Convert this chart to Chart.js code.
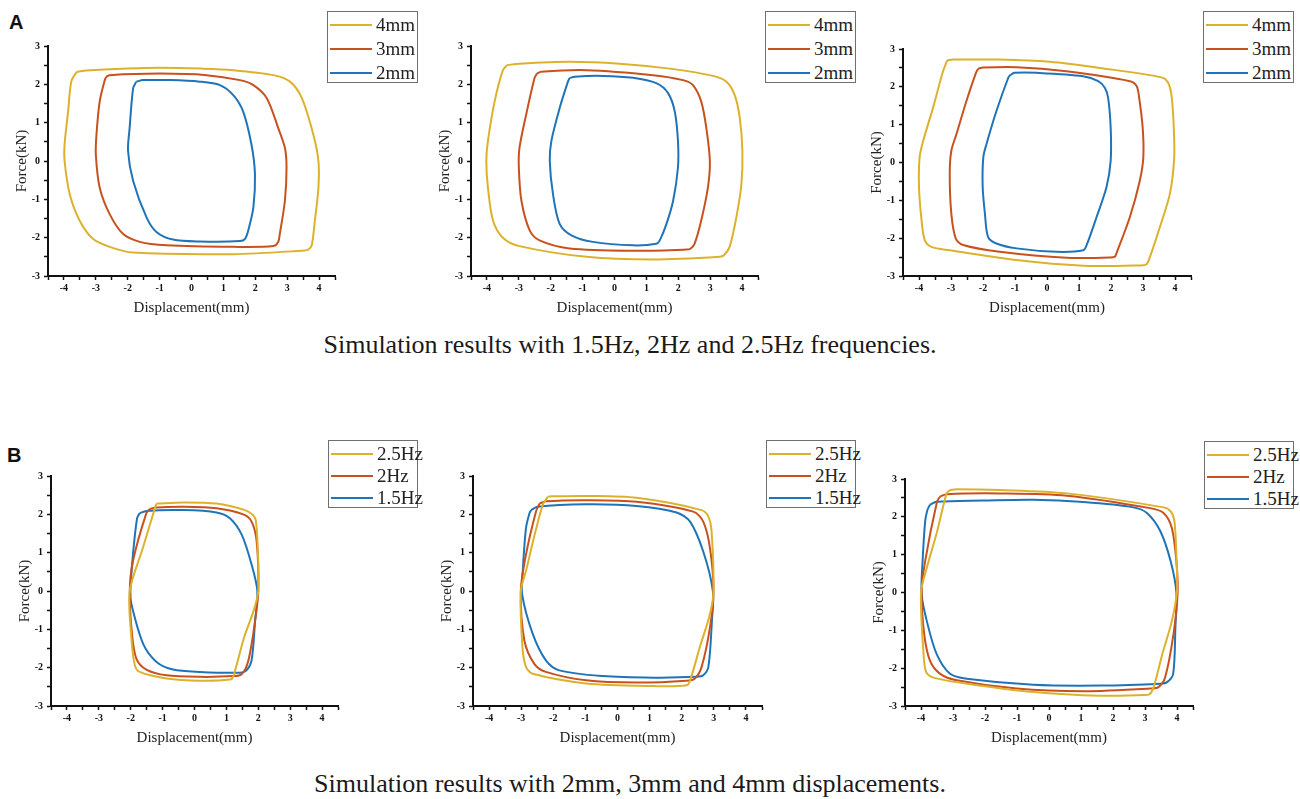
<!DOCTYPE html>
<html>
<head>
<meta charset="utf-8">
<script src="https://cdn.jsdelivr.net/npm/chart.js@4.4.1/dist/chart.umd.min.js"></script>
<style>
  html, body { margin: 0; padding: 0; background: #fff; }
  #fig { position: relative; width: 1300px; height: 799px; overflow: hidden; }
  #fig canvas { position: absolute; }
  .tag { position: absolute; font: bold 20px "Liberation Sans", Arial, sans-serif; line-height: 20px; color: #111; }
  .caption { position: absolute; left: 0; width: 1260px; text-align: center;
             font: 26px "Liberation Serif", "Times New Roman", serif; line-height: 26px; color: #1a1a1a; }
  .legend { position: absolute; border: 1.5px solid #6f6f6f; box-sizing: border-box; background: #fff; }
  .legend .row { position: absolute; left: 2px; display: flex; align-items: center; height: 20px;
                 font: 19px "Liberation Serif", "Times New Roman", serif; color: #222; }
  .legend .swatch { width: 42px; height: 2.5px; margin-right: 4px; }
</style>
</head>
<body>
<div id="fig"></div>
<script>
  // ---- data ----
  const mmLabels = ["4mm", "3mm", "2mm"];
  const hzLabels = ["2.5Hz", "2Hz", "1.5Hz"];
  const seriesColors = ["#dcb22c", "#c8521e", "#1f74b9"];
  const xRange = [-4.5, 4.5];
  const yRange = [-3, 3];

  // A: 1.5Hz / 2Hz / 2.5Hz, each with 4mm, 3mm, 2mm loops
  const a1_4mm = [[-3.56,2.33],[-3.3,2.36],[-2,2.41],[-1,2.43],[0.3,2.41],[1.31,2.37],[2.57,2.24],[3.09,2.07],[3.46,1.64],[3.82,0.69],[3.98,0],[3.98,-0.69],[3.87,-1.55],[3.77,-2.2],[3.66,-2.31],[3.46,-2.34],[1.31,-2.43],[-1.83,-2.39],[-2.57,-2.24],[-3.09,-2.03],[-3.51,-1.55],[-3.82,-0.86],[-3.98,0],[-3.98,0.43],[-3.87,1.29],[-3.77,2.07],[-3.61,2.31]];
  const a1_3mm = [[-2.67,2.2],[-2.57,2.24],[-1,2.28],[0.47,2.24],[1.52,2.11],[1.94,1.98],[2.36,1.64],[2.72,0.86],[2.93,0.34],[2.98,-0.17],[2.93,-1.03],[2.77,-1.9],[2.72,-2.11],[2.57,-2.22],[1.31,-2.24],[-0.79,-2.2],[-1.62,-2.11],[-2.15,-1.9],[-2.57,-1.38],[-2.88,-0.69],[-3.0,0.17],[-2.98,0.69],[-2.88,1.55],[-2.72,2.11]];
  const a1_2mm = [[-1.73,2.07],[-1.52,2.11],[-0.68,2.11],[0.26,2.07],[0.89,1.98],[1.31,1.72],[1.62,1.29],[1.88,0.43],[1.99,-0.34],[1.94,-1.21],[1.78,-1.81],[1.68,-2.03],[1.52,-2.09],[0.26,-2.1],[-0.58,-2.05],[-1.1,-1.85],[-1.41,-1.47],[-1.83,-0.52],[-1.99,0.26],[-1.94,0.86],[-1.83,1.9]];

  const a2_4mm = [[-3.37,2.5],[-2.98,2.54],[-1.41,2.59],[0.16,2.54],[1.73,2.41],[3.09,2.22],[3.51,2.07],[3.77,1.72],[3.93,1.12],[4.01,0.26],[3.98,-0.6],[3.82,-1.47],[3.61,-2.24],[3.43,-2.46],[3.3,-2.5],[1.21,-2.57],[-0.88,-2.5],[-2.98,-2.22],[-3.5,-2.0],[-3.81,-1.55],[-3.97,-0.69],[-4.02,0],[-3.97,0.52],[-3.76,1.55],[-3.5,2.37]];
  const a2_3mm = [[-2.43,2.28],[-2.3,2.33],[-0.88,2.37],[1.21,2.24],[2.15,2.11],[2.46,1.98],[2.72,1.55],[2.88,0.86],[2.99,0],[2.93,-0.69],[2.72,-1.55],[2.51,-2.16],[2.38,-2.29],[2.26,-2.31],[0.69,-2.34],[-1.41,-2.28],[-2.35,-2.07],[-2.66,-1.81],[-2.92,-1.03],[-3.0,-0.17],[-2.98,0.34],[-2.77,1.21],[-2.51,2.16]];
  const a2_2mm = [[-1.41,2.16],[-1.25,2.2],[-0.36,2.22],[0.58,2.17],[1.31,2.03],[1.68,1.77],[1.89,1.29],[1.99,0.52],[1.99,-0.17],[1.84,-1.03],[1.63,-1.64],[1.42,-2.07],[1.31,-2.16],[0.58,-2.2],[-0.68,-2.11],[-1.35,-1.94],[-1.72,-1.64],[-1.93,-0.86],[-2.03,0],[-1.98,0.52],[-1.72,1.38],[-1.46,2.07]];

  const a3_4mm = [[-3.12,2.7],[-2.92,2.72],[-1.48,2.72],[0.09,2.66],[1.65,2.5],[3.58,2.25],[3.79,2.1],[3.9,1.71],[3.97,0.75],[3.97,0.05],[3.84,-0.83],[3.53,-1.7],[3.22,-2.49],[3.11,-2.69],[2.9,-2.72],[1.13,-2.73],[-0.96,-2.58],[-3.04,-2.32],[-3.61,-2.23],[-3.82,-2.05],[-3.92,-1.53],[-4.0,-0.65],[-3.98,0.14],[-3.87,0.57],[-3.56,1.45],[-3.25,2.41]];
  const a3_3mm = [[-2.15,2.48],[-2.0,2.51],[-0.95,2.52],[0.61,2.41],[2.59,2.15],[2.8,2.02],[2.88,1.71],[2.99,0.92],[3.01,0.14],[2.9,-0.48],[2.59,-1.44],[2.17,-2.4],[2.12,-2.49],[1.97,-2.51],[0.61,-2.52],[-1.48,-2.36],[-2.62,-2.18],[-2.85,-2.01],[-2.99,-1.35],[-3.04,-0.3],[-2.99,0.31],[-2.83,0.75],[-2.52,1.62],[-2.22,2.37]];
  const a3_2mm = [[-1.14,2.32],[-1.01,2.37],[-0.33,2.37],[1.13,2.28],[1.6,2.15],[1.81,1.97],[1.91,1.71],[1.99,0.92],[1.99,0.05],[1.86,-0.65],[1.55,-1.44],[1.24,-2.18],[1.13,-2.32],[0.3,-2.36],[-0.95,-2.27],[-1.58,-2.14],[-1.84,-1.97],[-1.94,-1.35],[-2.01,-0.65],[-1.99,0.14],[-1.89,0.49],[-1.58,1.36],[-1.21,2.24]];

  // B: 2mm / 3mm / 4mm, each with 2.5Hz, 2Hz, 1.5Hz loops
  const b1_25hz = [[-1.19,2.28],[-0.36,2.31],[0.69,2.28],[1.58,2.11],[1.84,1.98],[1.93,1.81],[2.0,0.78],[2.0,0],[1.86,-0.5],[1.56,-1.2],[1.21,-2.24],[1.11,-2.31],[0.17,-2.34],[-0.88,-2.28],[-1.72,-2.11],[-1.87,-1.94],[-1.98,-1.21],[-2.03,0],[-1.62,1.12],[-1.22,2.22]];
  const b1_2hz = [[-1.4,2.14],[-1.19,2.18],[-0.36,2.2],[0.69,2.16],[1.53,2.0],[1.79,1.81],[1.95,1.29],[2.0,0],[1.9,-0.78],[1.69,-1.81],[1.48,-2.17],[1.21,-2.22],[0.17,-2.24],[-0.88,-2.2],[-1.51,-2.05],[-1.82,-1.77],[-1.96,-1.12],[-2.03,0],[-1.93,0.78],[-1.51,2.03]];
  const b1_15hz = [[-1.72,2.03],[-1.51,2.09],[-0.36,2.11],[0.69,2.05],[1.11,1.9],[1.48,1.47],[1.79,0.69],[1.97,0],[1.9,-0.78],[1.79,-1.81],[1.63,-2.07],[1.42,-2.13],[0.17,-2.11],[-0.67,-2.05],[-1.19,-1.85],[-1.61,-1.38],[-1.98,-0.34],[-2.01,0],[-1.93,0.95],[-1.8,1.9]];

  const b2_25hz = [[-2.17,2.46],[-2.02,2.47],[-0.98,2.48],[0.59,2.43],[2.62,2.11],[2.83,1.94],[2.93,1.55],[2.99,0],[2.88,-0.6],[2.57,-1.45],[2.26,-2.33],[2.15,-2.46],[1.11,-2.48],[-0.98,-2.41],[-2.64,-2.16],[-2.85,-1.98],[-2.96,-1.47],[-3.01,0],[-2.85,0.52],[-2.6,1.4],[-2.33,2.24]];
  const b2_2hz = [[-2.43,2.28],[-2.23,2.34],[-0.98,2.37],[0.59,2.33],[2.36,2.07],[2.67,1.81],[2.88,1.12],[2.99,0],[2.88,-0.95],[2.62,-1.98],[2.41,-2.28],[2.15,-2.34],[0.59,-2.39],[-0.98,-2.33],[-2.23,-2.11],[-2.59,-1.9],[-2.9,-1.29],[-3.01,0],[-2.85,0.95],[-2.54,2.07]];
  const b2_15hz = [[-2.69,2.11],[-2.49,2.2],[-0.98,2.26],[0.59,2.22],[1.84,2.05],[2.26,1.81],[2.67,1.03],[2.97,0],[2.94,-0.78],[2.83,-1.98],[2.67,-2.2],[2.47,-2.24],[1.11,-2.26],[-0.46,-2.22],[-1.81,-2.07],[-2.23,-1.81],[-2.64,-1.12],[-2.97,-0.09],[-2.95,0.52],[-2.85,1.64],[-2.74,2.03]];

  const b3_25hz = [[-3.09,2.71],[-2.88,2.73],[-1.53,2.71],[0.56,2.62],[3.58,2.25],[3.81,2.14],[3.92,1.88],[3.98,1.0],[4.0,0.04],[3.84,-0.75],[3.55,-1.6],[3.27,-2.5],[3.14,-2.69],[2.95,-2.71],[1.6,-2.73],[-0.49,-2.63],[-2.57,-2.41],[-3.61,-2.25],[-3.84,-2.1],[-3.92,-1.63],[-4.0,0],[-3.82,0.65],[-3.5,1.6],[-3.2,2.62]];
  const b3_2hz = [[-3.4,2.54],[-3.2,2.6],[-1.53,2.62],[0.56,2.56],[3.16,2.23],[3.58,2.1],[3.84,1.7],[3.98,0.83],[4.02,0],[3.89,-1.1],[3.63,-2.24],[3.42,-2.5],[3.16,-2.54],[1.08,-2.61],[-1.01,-2.54],[-2.88,-2.32],[-3.4,-2.15],[-3.72,-1.8],[-3.9,-1.1],[-3.98,0],[-3.87,0.83],[-3.5,2.4]];
  const b3_15hz = [[-3.72,2.32],[-3.51,2.4],[-2.05,2.43],[-0.49,2.45],[1.08,2.39],[2.64,2.25],[3.06,2.1],[3.48,1.62],[3.8,0.83],[3.98,0],[3.95,-0.92],[3.88,-2.15],[3.69,-2.37],[3.48,-2.41],[1.6,-2.46],[-0.49,-2.44],[-2.57,-2.28],[-3.09,-2.15],[-3.51,-1.63],[-3.82,-0.75],[-3.98,-0.05],[-3.95,0.83],[-3.87,1.88],[-3.8,2.18]];

  // ---- layout: plot area (px) and legend box for each panel ----
  const panels = [
    { loops: [a1_4mm, a1_3mm, a1_2mm], labels: mmLabels, plot: [48, 44, 335, 276], legend: [327, 11, 91, 72] },
    { loops: [a2_4mm, a2_3mm, a2_2mm], labels: mmLabels, plot: [471, 44, 758, 276], legend: [765, 11, 91, 72] },
    { loops: [a3_4mm, a3_3mm, a3_2mm], labels: mmLabels, plot: [903, 47, 1191, 276], legend: [1203, 11, 91, 72] },
    { loops: [b1_25hz, b1_2hz, b1_15hz], labels: hzLabels, plot: [51, 474, 338, 706], legend: [328, 440, 90, 68] },
    { loops: [b2_25hz, b2_2hz, b2_15hz], labels: hzLabels, plot: [473, 474, 762, 706], legend: [766, 440, 90, 68] },
    { loops: [b3_25hz, b3_2hz, b3_15hz], labels: hzLabels, plot: [905, 477, 1193, 706], legend: [1204, 441, 90, 68] },
  ];

  const Y_AXIS_W = 45;
  const X_AXIS_H = 45;
  const PAD_TOP = 8;
  const PAD_RIGHT = 4;
  const fig = document.getElementById("fig");

  function closed(loop) {
    const pts = loop.map((p) => ({ x: p[0], y: p[1] }));
    pts.push({ x: loop[0][0], y: loop[0][1] });
    return pts;
  }

  function axis(min, max, title, isY) {
    return {
      type: "linear",
      min: min,
      max: max,
      border: { display: true, color: "#111", width: 2 },
      grid: { drawOnChartArea: false, drawTicks: true, tickLength: 4, tickWidth: 1.5, color: "#111" },
      ticks: {
        stepSize: 0.5,
        autoSkip: false,
        maxRotation: 0,
        padding: isY ? 4 : 2,
        color: "#111",
        font: { family: "'Liberation Serif', 'Times New Roman', serif", size: 10, weight: "bold" },
        callback: (v) => (Number.isInteger(v) ? String(v) : ""),
      },
      title: {
        display: true,
        text: title,
        color: "#222",
        font: { family: "'Liberation Serif', 'Times New Roman', serif", size: 15 },
        padding: isY ? { top: 10, bottom: 0 } : { top: 0, bottom: 4 },
      },
      afterFit: (s) => {
        if (isY) s.width = Y_AXIS_W;
        else s.height = X_AXIS_H;
      },
    };
  }

  function makePanel(p) {
    const [l, t, r, b] = p.plot;
    const cv = document.createElement("canvas");
    const w = r - l + Y_AXIS_W + PAD_RIGHT;
    const h = b - t + PAD_TOP + X_AXIS_H;
    cv.width = w;
    cv.height = h;
    cv.style.width = w + "px";
    cv.style.height = h + "px";
    cv.style.left = l - Y_AXIS_W + "px";
    cv.style.top = t - PAD_TOP + "px";
    fig.appendChild(cv);

    new Chart(cv, {
      type: "scatter",
      data: {
        datasets: p.loops.map((loop, i) => ({
          label: p.labels[i],
          data: closed(loop),
          showLine: true,
          borderColor: seriesColors[i],
          backgroundColor: seriesColors[i],
          borderWidth: 2,
          pointRadius: 0,
          tension: 0.3,
          fill: false,
        })),
      },
      options: {
        responsive: false,
        animation: false,
        devicePixelRatio: 1,
        layout: { padding: { top: PAD_TOP, right: PAD_RIGHT, left: 0, bottom: 0 } },
        plugins: { legend: { display: false }, tooltip: { enabled: false } },
        scales: {
          x: axis(xRange[0], xRange[1], "Displacement(mm)", false),
          y: axis(yRange[0], yRange[1], "Force(kN)", true),
        },
      },
    });

    // legend box
    const [lx, ly, lw, lh] = p.legend;
    const box = document.createElement("div");
    box.className = "legend";
    box.style.left = lx + "px";
    box.style.top = ly + "px";
    box.style.width = lw + "px";
    box.style.height = lh + "px";
    const step = (lh - 24) / 2;
    p.labels.forEach((lab, i) => {
      const row = document.createElement("div");
      row.className = "row";
      row.style.top = 3 + i * step + "px";
      const sw = document.createElement("span");
      sw.className = "swatch";
      sw.style.background = seriesColors[i];
      const tx = document.createElement("span");
      tx.textContent = lab;
      row.appendChild(sw);
      row.appendChild(tx);
      box.appendChild(row);
    });
    fig.appendChild(box);
  }

  panels.forEach(makePanel);

  function addText(cls, text, left, top) {
    const d = document.createElement("div");
    d.className = cls;
    d.textContent = text;
    if (left != null) d.style.left = left + "px";
    d.style.top = top + "px";
    fig.appendChild(d);
  }

  addText("tag", "A", 9, 12);
  addText("tag", "B", 7, 445);
  addText("caption", "Simulation results with 1.5Hz, 2Hz and 2.5Hz frequencies.", null, 332);
  addText("caption", "Simulation results with 2mm, 3mm and 4mm displacements.", null, 771);
</script>
</body>
</html>
